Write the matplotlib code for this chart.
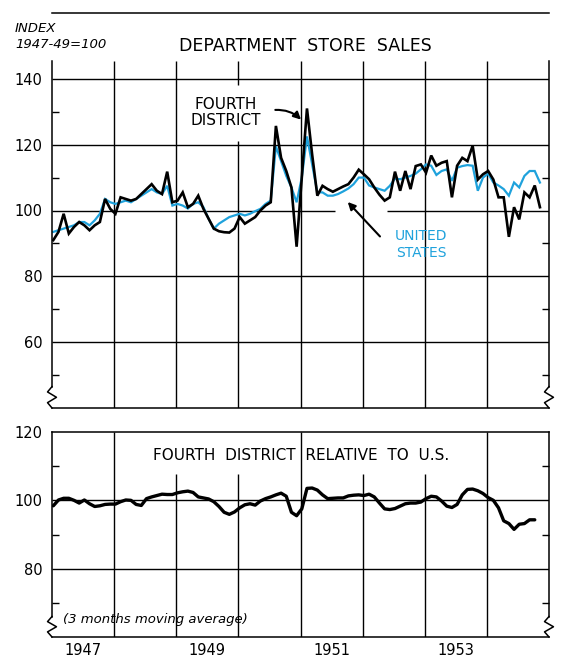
import numpy as np
import matplotlib
matplotlib.use("Agg")
import matplotlib.pyplot as plt
import matplotlib.transforms as mtransforms

# ---------------------------------------------------------------
# Datos: indices mensuales (1947-49 = 100), enero 1947 en adelante
# ---------------------------------------------------------------
fourth_district = [
    91, 93.5, 99, 93, 95, 96.5, 95.5, 94, 95.5, 96.5, 103.5, 100.5,
    99, 104, 103.5, 103, 103.5, 105, 106.5, 108, 106, 105, 111.8, 102.5,
    103, 105.5, 101, 102, 104.5, 100.5, 97.5, 94.5, 93.7, 93.4, 93.3, 94.5,
    98, 96, 97, 98, 100, 101.5, 102.5, 125.7, 116, 112, 107, 89,
    110, 131, 117, 104.5, 107.5, 106.5, 105.7, 106.5, 107.3, 108, 110, 112.4,
    111, 109.5, 107, 104.8, 103, 104, 111.8, 106, 112, 106.5, 113.5, 114,
    111.5, 116.7, 113.6, 114.5, 115, 104, 113.6, 116, 115, 119.7, 109.4, 111,
    112, 109.4, 104, 104, 92, 101, 97.3, 105.5, 104, 107.6, 101,
]
united_states = [
    93.5, 94, 94.5, 95, 95.5, 96.5, 96.5, 95.5, 97, 99, 103.5, 102.5,
    102, 102.5, 103, 102.5, 103.5, 104.5, 105.5, 106.5, 105.5, 105, 107.5, 101.5,
    102, 101.5, 100.6, 102, 102.5, 101, 97.5, 94.5, 96, 97, 98, 98.5,
    99, 98.5, 99, 99.8, 100.5, 102, 103, 119.5, 115, 110.5, 107, 102.5,
    110, 122.5, 114, 105.5, 105.5, 104.5, 104.5, 105, 105.8, 106.7, 108, 110,
    110, 107.6, 107, 106.5, 106, 107.5, 109.7, 109.5, 110, 110.5, 111.2, 112.5,
    114, 113.6, 110.8, 112, 112.5, 109, 113, 113.5, 113.8, 113.6, 106, 110,
    111.2, 108.5, 107.6, 106.5, 104.5, 108.5, 107, 110.5, 112, 112, 108.5,
]
# 4o distrito relativo a EE.UU. (media movil de 3 meses)
relative = [
    98.4, 100.1, 100.6, 100.6, 100, 99.2, 100.1, 99, 98.2, 98.4, 98.8, 98.9,
    98.9, 99.6, 100.1, 100, 98.8, 98.5, 100.5, 101, 101.4, 101.8, 101.7, 101.7,
    102.2, 102.5, 102.7, 102.3, 101, 100.7, 100.4, 99.6, 98.2, 96.5, 95.9, 96.6,
    97.8, 98.7, 99, 98.6, 99.8, 100.5, 101, 101.6, 102.1, 101.2, 96.5, 95.5,
    97.5, 103.5, 103.6, 103, 101.6, 100.5, 100.6, 100.7, 100.7, 101.3, 101.5, 101.6,
    101.4, 101.8, 101, 99.2, 97.5, 97.3, 97.6, 98.3, 99, 99.2, 99.2, 99.5,
    100.5, 101.2, 101, 99.8, 98.3, 97.9, 98.8, 101.6, 103.2, 103.3, 102.8, 102,
    100.8, 100, 97.8, 94, 93.2, 91.5, 93, 93.2, 94.3, 94.3,
]
year_labels = ["1947", "1949", "1951", "1953"]
year_label_pos = [1947.5, 1949.5, 1951.5, 1953.5]

t_fd = 1947 + (np.arange(len(fourth_district)) + 0.25) / 12
t_us = 1947 + (np.arange(len(united_states)) + 0.25) / 12
t_rel = 1947 + (np.arange(len(relative)) + 0.25) / 12

CYAN = "#1fa2dc"
W, H = 562, 657

fig = plt.figure(figsize=(W / 100, H / 100), dpi=100)
fig.patch.set_facecolor("white")


def fx(px):
    return px / W


def fy(py):
    return 1 - py / H


def zigzag(ax, x, y0, y1):
    tr = mtransforms.blended_transform_factory(ax.transAxes, ax.transData)
    ys = np.linspace(y0, y1, 5)
    xs = [x, x - 0.009, x + 0.009, x - 0.009, x]
    ax.plot(xs, ys, color="k", lw=1.1, transform=tr, clip_on=False)


# ---------------- panel superior ----------------
ax1 = fig.add_axes([fx(52), fy(408), fx(549) - fx(52), fy(13) - fy(408)])
ax1.set_xlim(1947, 1955)
ax1.set_ylim(40, 160)

for v in [140, 120, 80, 60]:
    ax1.hlines(v, 1947, 1955, color="k", lw=1.0)
ax1.hlines(100, 1947, 1951.56, color="k", lw=1.0)
ax1.hlines(100, 1952.39, 1955, color="k", lw=1.0)
for yr in [1948, 1949, 1951, 1952, 1953, 1954]:
    ax1.vlines(yr, 40, 145.5, color="k", lw=1.0)
ax1.vlines(1950, 40, 121, color="k", lw=1.0)
ax1.vlines(1950, 138, 145.5, color="k", lw=1.0)

ax1.plot(t_us, united_states, color=CYAN, lw=1.6, solid_joinstyle="miter")
ax1.plot(t_fd, fourth_district, color="k", lw=1.9, solid_joinstyle="miter")

for s in ["left", "right"]:
    ax1.spines[s].set_bounds(46.5, 145.5)
    ax1.spines[s].set_linewidth(1.1)
ax1.spines["top"].set_linewidth(1.1)
ax1.spines["bottom"].set_linewidth(1.1)
zigzag(ax1, 0, 46.5, 40)
zigzag(ax1, 1, 46.5, 40)

ax1.set_xticks([])
ax1.set_yticks([60, 80, 100, 120, 140])
ax1.set_yticklabels(["60", "80", "100", "120", "140"], fontsize=10.5)
ax1.set_yticks([50, 70, 90, 110, 130], minor=True)
ax1.tick_params(axis="y", which="major", length=0, pad=7)
ax1.tick_params(axis="y", which="minor", direction="in", length=5,
                width=1.0, left=True, right=True)

ax1.text(1949.8, 129.8, "FOURTH\nDISTRICT", ha="center", va="center",
         fontsize=11, linespacing=1.15)
ax1.annotate("", xy=(1951.04, 127.0), xytext=(1950.55, 130.5),
             arrowprops=dict(arrowstyle="-|>", color="k", lw=1.5,
                             mutation_scale=11,
                             connectionstyle="arc3,rad=-0.25"))
ax1.text(1952.94, 89.7, "UNITED\nSTATES", ha="center", va="center",
         fontsize=10, color=CYAN, linespacing=1.2)
ax1.annotate("", xy=(1951.73, 103.2), xytext=(1952.31, 91.5),
             arrowprops=dict(arrowstyle="-|>", color="k", lw=1.5,
                             mutation_scale=11))

fig.text(fx(15), fy(29), "INDEX", fontsize=9.5, style="italic", va="center")
fig.text(fx(15), fy(44), "1947-49=100", fontsize=9.5, style="italic",
         va="center")
fig.text(fx(305), fy(46), "DEPARTMENT  STORE  SALES", fontsize=12.5,
         ha="center", va="center")

# ---------------- panel inferior ----------------
ax2 = fig.add_axes([fx(52), fy(637), fx(549) - fx(52), fy(432) - fy(637)])
ax2.set_xlim(1947, 1955)
ax2.set_ylim(60, 120)

ax2.hlines([100, 80], 1947, 1955, color="k", lw=1.0)
for yr in [1948, 1951, 1954]:
    ax2.vlines(yr, 60, 120, color="k", lw=1.0)
for yr in [1949, 1950, 1952, 1953]:
    ax2.vlines(yr, 60, 107.7, color="k", lw=1.0)

ax2.plot(t_rel, relative, color="k", lw=2.4, solid_capstyle="round")

for s in ["left", "right"]:
    ax2.spines[s].set_bounds(66, 120)
    ax2.spines[s].set_linewidth(1.1)
ax2.spines["top"].set_linewidth(1.1)
ax2.spines["bottom"].set_linewidth(1.1)
zigzag(ax2, 0, 66, 60)
zigzag(ax2, 1, 66, 60)

ax2.set_xticks(year_label_pos)
ax2.set_xticklabels(year_labels, fontsize=10.5)
ax2.tick_params(axis="x", length=0, pad=4)
ax2.set_yticks([80, 100, 120])
ax2.set_yticklabels(["80", "100", "120"], fontsize=10.5)
ax2.set_yticks([70, 90, 110], minor=True)
ax2.tick_params(axis="y", which="major", length=0, pad=7)
ax2.tick_params(axis="y", which="minor", direction="in", length=5,
                width=1.0, left=True, right=True)

fig.text(fx(301), fy(455), "FOURTH  DISTRICT  RELATIVE  TO  U.S.",
         fontsize=11, ha="center", va="center")
fig.text(fx(63), fy(620), "(3 months moving average)", fontsize=9.5,
         style="italic", va="center")

fig.savefig("out.png", dpi=100, facecolor="white")
